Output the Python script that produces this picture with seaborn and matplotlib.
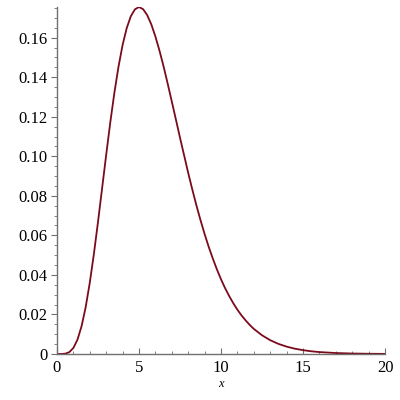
import numpy as np
import pandas as pd
import seaborn as sns
import matplotlib.pyplot as plt
from matplotlib.ticker import MultipleLocator

# values
x_vals = [0, 0.25, 0.5, 0.75, 1, 1.25, 1.5, 1.75, 2, 2.25, 2.5, 2.75, 3, 3.25,
          3.5, 3.75, 4, 4.25, 4.5, 4.75, 5, 5.25, 5.5, 5.75, 6, 6.25, 6.5,
          6.75, 7, 7.25, 7.5, 7.75, 8, 8.25, 8.5, 8.75, 9, 9.25, 9.5, 9.75,
          10, 10.25, 10.5, 10.75, 11, 11.25, 11.5, 11.75, 12, 12.5, 13, 13.5,
          14, 14.5, 15, 15.5, 16, 17, 18, 19, 20]
y_vals = [0, 0.000005, 0.000158, 0.000934, 0.00307, 0.00729, 0.01412, 0.02377,
          0.0361, 0.05065, 0.0668, 0.08379, 0.1008, 0.1172, 0.1322, 0.1453,
          0.1563, 0.1648, 0.1708, 0.1743, 0.1755, 0.1744, 0.1714, 0.1667,
          0.1606, 0.1534, 0.1454, 0.1367, 0.1277, 0.1186, 0.1094, 0.1005,
          0.0916, 0.0832, 0.0752, 0.0677, 0.0607, 0.0542, 0.0483, 0.0428,
          0.0378, 0.0333, 0.0293, 0.02566, 0.0224, 0.01953, 0.0170, 0.01472,
          0.0127, 0.00948, 0.00699, 0.00512, 0.00373, 0.00269, 0.00194,
          0.00138, 0.00098, 0.00049, 0.00024, 0.000116, 0.000055]
df = pd.DataFrame({"x": x_vals, "y": y_vals})

sns.set_style("white")
plt.rcParams['font.family'] = ['Liberation Serif', 'DejaVu Serif']

fig = plt.figure(figsize=(4, 4), dpi=100)
ax = fig.add_axes([0.1425, 0.115, 0.82, 0.8675])
sns.lineplot(data=df, x="x", y="y", ax=ax, color="#7a0a1c", linewidth=1.3)

ax.set_xlim(0, 20)
ax.set_ylim(0, 0.1755)
ax.xaxis.set_major_locator(MultipleLocator(5))
ax.xaxis.set_minor_locator(MultipleLocator(1))
ax.yaxis.set_minor_locator(MultipleLocator(0.005))
ax.set_yticks(np.arange(0, 0.17, 0.02))
ax.set_yticklabels(["0"] + [f"{v:.2f}" for v in np.arange(0.02, 0.17, 0.02)])

for s in ["top", "right"]:
    ax.spines[s].set_visible(False)
for s in ["left", "bottom"]:
    ax.spines[s].set_color("#707070")
    ax.spines[s].set_linewidth(1.0)

ax.tick_params(axis="y", which="major", direction="out", length=4, color="#707070",
               labelsize=12, labelcolor="black", left=True, pad=3)
ax.tick_params(axis="y", which="minor", direction="out", length=2, color="#707070", left=True)
ax.tick_params(axis="x", which="major", direction="in", length=4, color="#707070",
               labelsize=12, labelcolor="black", bottom=True, pad=4)
ax.tick_params(axis="x", which="minor", direction="in", length=2, color="#707070", bottom=True)
for lab in ax.get_xticklabels() + ax.get_yticklabels():
    lab.set_family("Liberation Serif")

ax.set_xlabel("x", fontsize=9, style="italic", labelpad=2, color="black",
              family="Liberation Serif")
ax.set_ylabel("")

fig.savefig("out.png", dpi=100)
